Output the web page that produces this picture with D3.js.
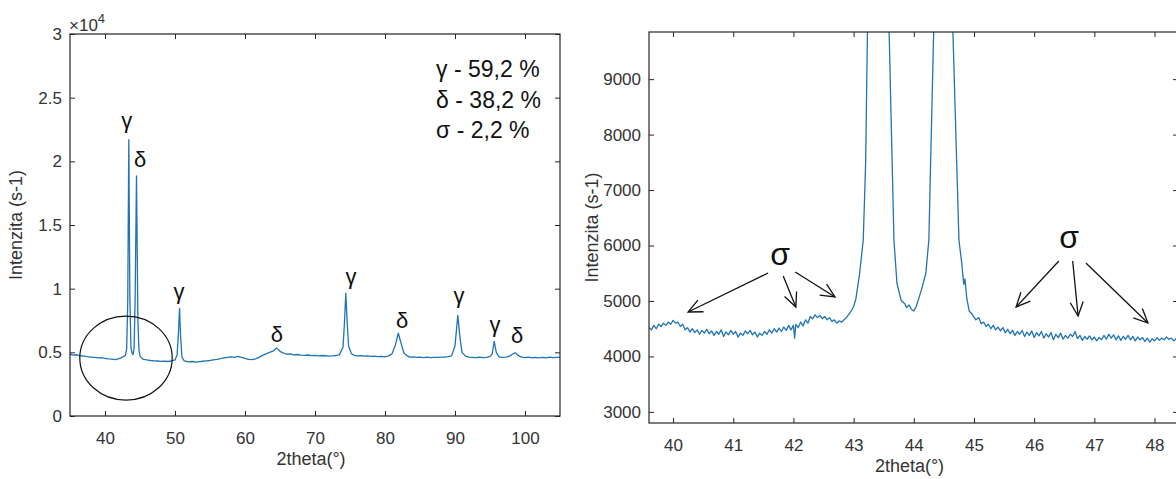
<!DOCTYPE html>
<html>
<head>
<meta charset="utf-8">
<script src="https://cdn.jsdelivr.net/npm/d3@7"></script>
<style>
  body { margin: 0; background: #fff; }
  svg { display: block; font-family: "Liberation Sans", Arial, sans-serif; }
  .tick text { fill: #333; font-size: 17px; }
  .tick line { stroke: #262626; }
</style>
</head>
<body>
<svg id="chart" width="1176" height="479"></svg>
<script>
// wide scan, 2theta 35-105 : [angle, counts]
const wideScan = [
  [35.0,4850],[35.5,4780],[36.0,4810],[36.5,4730],[37.0,4700],[37.5,4660],[38.0,4630],[38.5,4600],
  [39.0,4570],[39.5,4590],[40.0,4520],[40.5,4480],[41.0,4460],[41.5,4430],[42.0,4500],[42.5,4620],
  [42.9,4750],[43.1,5300],[43.25,9000],[43.4,21700],[43.55,9500],[43.7,5400],[43.85,4950],[44.0,4820],
  [44.15,5300],[44.3,9000],[44.5,18850],[44.7,7500],[44.85,5200],[45.0,4700],[45.2,4560],[45.5,4450],
  [46.0,4400],[46.5,4360],[47.0,4330],[47.5,4320],[48.0,4290],[48.5,4310],[49.0,4280],[49.5,4320],
  [50.0,4400],[50.3,4800],[50.5,6600],[50.65,8450],[50.8,6200],[51.0,4600],[51.3,4350],[51.5,4300],
  [52.0,4250],[52.5,4280],[53.0,4230],[53.5,4270],[54.0,4300],[54.5,4330],[55.0,4360],[55.5,4410],
  [56.0,4450],[56.5,4500],[57.0,4560],[57.5,4600],[58.0,4640],[58.5,4610],[59.0,4690],[59.5,4600],
  [60.0,4520],[60.5,4450],[61.0,4430],[61.5,4480],[62.0,4600],[62.5,4760],[63.0,4880],[63.5,4990],
  [64.0,5100],[64.5,5350],[65.0,5080],[65.5,4940],[66.0,4850],[66.5,4880],[67.0,4800],[67.5,4830],
  [68.0,4780],[68.5,4760],[69.0,4790],[69.5,4740],[70.0,4760],[70.5,4720],[71.0,4750],[71.5,4730],
  [72.0,4700],[72.5,4720],[73.0,4750],[73.5,4820],[74.0,5400],[74.2,7200],[74.4,9650],[74.6,7300],
  [74.8,5500],[75.2,4900],[75.5,4790],[76.0,4720],[76.5,4740],[77.0,4700],[77.5,4720],[78.0,4680],
  [78.5,4700],[79.0,4660],[79.5,4690],[80.0,4650],[80.5,4720],[81.0,4880],[81.5,5600],[81.9,6500],
  [82.3,5700],[82.7,4950],[83.2,4720],[83.5,4620],[84.0,4650],[84.5,4600],[85.0,4630],[85.5,4590],
  [86.0,4620],[86.5,4580],[87.0,4610],[87.5,4600],[88.0,4630],[88.5,4620],[89.0,4660],[89.5,4720],
  [90.0,5500],[90.4,7900],[90.7,6200],[91.0,5000],[91.5,4700],[92.0,4620],[92.5,4600],[93.0,4580],
  [93.5,4620],[94.0,4590],[94.5,4610],[95.0,4680],[95.3,4850],[95.6,5850],[95.9,5000],[96.3,4650],
  [96.8,4600],[97.3,4620],[97.8,4700],[98.2,4850],[98.6,4960],[99.0,4760],[99.5,4620],[100.0,4580],
  [100.5,4620],[101.0,4570],[101.5,4610],[102.0,4560],[102.5,4600],[103.0,4570],[103.5,4620],
  [104.0,4580],[104.5,4610],[105.0,4600]
];

// zoomed scan around the main peaks, 2theta 39.6-48.4 : [angle, counts]
const zoomScan = [
  [39.60,4520],[39.64,4480],[39.68,4560],[39.72,4500],[39.76,4580],[39.80,4540],[39.84,4600],[39.88,4560],
  [39.92,4620],[39.96,4580],[40.00,4650],[40.04,4600],[40.08,4620],[40.12,4540],[40.16,4580],[40.20,4480],
  [40.24,4520],[40.28,4440],[40.32,4500],[40.36,4430],[40.40,4480],[40.44,4400],[40.48,4470],[40.52,4420],
  [40.56,4490],[40.60,4410],[40.64,4460],[40.68,4380],[40.72,4450],[40.76,4400],[40.80,4480],[40.84,4360],
  [40.88,4440],[40.92,4390],[40.96,4470],[41.00,4400],[41.04,4450],[41.08,4350],[41.12,4420],[41.16,4380],
  [41.20,4460],[41.24,4410],[41.28,4470],[41.32,4390],[41.36,4440],[41.40,4350],[41.44,4420],[41.48,4380],
  [41.52,4450],[41.56,4400],[41.60,4480],[41.64,4420],[41.68,4500],[41.72,4440],[41.76,4510],[41.80,4450],
  [41.84,4530],[41.88,4470],[41.92,4560],[41.96,4480],[42.00,4560],[42.02,4330],[42.04,4580],[42.08,4520],
  [42.12,4620],[42.16,4550],[42.20,4660],[42.24,4600],[42.28,4720],[42.32,4680],[42.36,4750],[42.40,4700],
  [42.44,4740],[42.48,4680],[42.52,4720],[42.56,4660],[42.60,4700],[42.64,4630],[42.68,4660],[42.72,4600],
  [42.76,4640],[42.80,4620],[42.84,4660],[42.88,4700],[42.92,4760],[42.96,4820],[43.00,4900],[43.04,5050],
  [43.10,5500],[43.16,6100],[43.20,7500],[43.23,9850],[43.30,15000],[43.40,21700],[43.50,15000],
  [43.59,9850],[43.67,6100],[43.72,5320],[43.79,5010],[43.85,4950],[43.88,4880],[43.92,4930],[43.96,4850],
  [44.00,4820],[44.04,4900],[44.09,5070],[44.14,5250],[44.20,5500],[44.25,6100],[44.33,9850],[44.42,15000],
  [44.50,18850],[44.58,14000],[44.65,9850],[44.75,6100],[44.80,5650],[44.83,5300],[44.85,5400],[44.88,5050],
  [44.92,4820],[44.97,4760],[45.03,4660],[45.08,4700],[45.12,4590],[45.16,4620],[45.20,4540],[45.24,4580],
  [45.28,4500],[45.32,4560],[45.36,4480],[45.40,4530],[45.44,4460],[45.48,4520],[45.52,4430],[45.56,4490],
  [45.60,4410],[45.64,4470],[45.68,4380],[45.72,4450],[45.76,4400],[45.80,4470],[45.84,4360],[45.88,4440],
  [45.92,4380],[45.96,4460],[46.00,4340],[46.04,4430],[46.08,4370],[46.12,4450],[46.16,4330],[46.20,4410],
  [46.24,4350],[46.28,4430],[46.32,4300],[46.36,4400],[46.40,4340],[46.44,4420],[46.48,4310],[46.52,4380],
  [46.56,4330],[46.60,4400],[46.64,4360],[46.68,4450],[46.72,4320],[46.76,4380],[46.80,4290],[46.84,4360],
  [46.88,4310],[46.92,4370],[46.96,4300],[47.00,4350],[47.04,4280],[47.08,4340],[47.12,4300],[47.16,4380],
  [47.20,4310],[47.24,4400],[47.28,4330],[47.32,4390],[47.36,4300],[47.40,4370],[47.44,4290],[47.48,4360],
  [47.52,4310],[47.56,4380],[47.60,4300],[47.64,4360],[47.68,4280],[47.72,4350],[47.76,4300],[47.80,4340],
  [47.84,4270],[47.88,4330],[47.92,4260],[47.96,4320],[48.00,4280],[48.04,4340],[48.08,4290],[48.12,4330],
  [48.16,4300],[48.20,4350],[48.24,4310],[48.28,4330],[48.32,4280],[48.36,4320],[48.40,4300]
];

const wideXTicks = [40, 50, 60, 70, 80, 90, 100];
const wideYTicks = [0, 5000, 10000, 15000, 20000, 25000, 30000];
const zoomXTicks = [40, 41, 42, 43, 44, 45, 46, 47, 48];
const zoomYTicks = [3000, 4000, 5000, 6000, 7000, 8000, 9000];

// phase labels on the wide scan: [angle, counts (baseline), symbol]
const peakLabels = [
  [43.1, 22620, "γ"], [45.0, 19555, "δ"], [50.57, 9190, "γ"], [64.57, 5810, "δ"],
  [75.14, 10370, "γ"], [82.43, 6910, "δ"], [90.57, 8870, "γ"], [95.71, 6600, "γ"], [98.86, 5730, "δ"]
];
const phaseShares = ["γ - 59,2 %", "δ - 38,2 %", "σ - 2,2 %"];
const shareBaselines = [26620, 24190, 21830];
const shareAngle = 87.3;

// circled region on the wide scan: center angle, center counts, radius in angle, radius in counts
const zoomCircle = [43.0, 4550, 6.6, 3300];

// sigma markers on the zoomed scan
const sigmaLabels = [[41.78, 5650], [46.58, 5955]];
const sigmaArrows = [
  [41.58, 5505, 40.25, 4801], [41.83, 5451, 42.04, 4892], [42.03, 5523, 42.69, 5072],
  [46.41, 5721, 45.70, 4892], [46.64, 5721, 46.73, 4729], [46.86, 5685, 47.89, 4603]
];

const svg = d3.select("#chart");
const ink = "#262626";
const lineColor = "#1f74b5";

const defs = svg.append("defs");
defs.append("marker")
    .attr("id", "arrowhead")
    .attr("markerUnits", "userSpaceOnUse")
    .attr("markerWidth", 20).attr("markerHeight", 20)
    .attr("refX", 0).attr("refY", 0)
    .attr("viewBox", "-15 -10 20 20")
    .attr("orient", "auto")
  .append("path")
    .attr("d", "M-14,-6.5L0,0L-14,6.5")
    .attr("fill", "none")
    .attr("stroke", "#111")
    .attr("stroke-width", 1.3);

function drawPanel(opts) {
    const x = d3.scaleLinear().domain(opts.xDomain).range([opts.left, opts.right]);
    const y = d3.scaleLinear().domain(opts.yDomain).range([opts.bottom, opts.top]);
    const g = svg.append("g");

    defs.append("clipPath").attr("id", opts.id + "-clip")
      .append("rect")
        .attr("x", opts.left).attr("y", opts.top)
        .attr("width", opts.right - opts.left).attr("height", opts.bottom - opts.top);

    const line = d3.line().x(d => x(d[0])).y(d => y(d[1]));
    g.append("path")
        .datum(opts.data)
        .attr("clip-path", "url(#" + opts.id + "-clip)")
        .attr("fill", "none")
        .attr("stroke", lineColor)
        .attr("stroke-width", 1.3)
        .attr("stroke-linejoin", "round")
        .attr("d", line);

    // MATLAB style box with inward ticks on all sides
    g.append("g").attr("transform", `translate(0,${opts.bottom})`)
        .call(d3.axisBottom(x).tickValues(opts.xTicks).tickSize(-5).tickSizeOuter(0).tickPadding(16))
        .call(a => a.select(".domain").remove());
    g.append("g").attr("transform", `translate(0,${opts.top})`)
        .call(d3.axisTop(x).tickValues(opts.xTicks).tickSize(-5).tickSizeOuter(0).tickFormat(""))
        .call(a => a.select(".domain").remove());
    g.append("g").attr("transform", `translate(${opts.left},0)`)
        .call(d3.axisLeft(y).tickValues(opts.yTicks).tickSize(-5).tickSizeOuter(0).tickPadding(8).tickFormat(opts.yFormat))
        .call(a => a.select(".domain").remove());
    g.append("g").attr("transform", `translate(${opts.right},0)`)
        .call(d3.axisRight(y).tickValues(opts.yTicks).tickSize(-5).tickSizeOuter(0).tickFormat(""))
        .call(a => a.select(".domain").remove());

    g.append("rect")
        .attr("x", opts.left).attr("y", opts.top)
        .attr("width", opts.right - opts.left).attr("height", opts.bottom - opts.top)
        .attr("fill", "none").attr("stroke", ink).attr("stroke-width", 1.2);

    g.append("text")
        .attr("x", (opts.left + opts.right) / 2 - 4)
        .attr("y", opts.bottom + 49)
        .attr("text-anchor", "middle")
        .attr("fill", "#333").attr("font-size", 18)
        .text("2theta(°)");

    g.append("text")
        .attr("transform", `translate(${opts.yLabelX},${(opts.top + opts.bottom) / 2}) rotate(-90)`)
        .attr("text-anchor", "middle")
        .attr("fill", "#333").attr("font-size", 18)
        .text("Intenzita (s-1)");

    return { x, y, g };
}

// ---- left: full pattern ----
const wide = drawPanel({
    id: "wide", data: wideScan,
    left: 70, right: 560, top: 34, bottom: 416,
    xDomain: [35, 105], yDomain: [0, 30000],
    xTicks: wideXTicks, yTicks: wideYTicks,
    yFormat: d => String(d / 10000),
    yLabelX: 22
});

const expo = wide.g.append("text")
    .attr("x", 69).attr("y", 31)
    .attr("fill", "#333").attr("font-size", 17);
expo.append("tspan").text("×10");
expo.append("tspan").attr("dy", -8).attr("font-size", 13).text("4");

wide.g.append("ellipse")
    .attr("cx", wide.x(zoomCircle[0]))
    .attr("cy", wide.y(zoomCircle[1]))
    .attr("rx", wide.x(zoomCircle[0] + zoomCircle[2]) - wide.x(zoomCircle[0]))
    .attr("ry", wide.y(zoomCircle[1]) - wide.y(zoomCircle[1] + zoomCircle[3]))
    .attr("fill", "none").attr("stroke", "#111").attr("stroke-width", 1.2);

wide.g.selectAll(".peak")
    .data(peakLabels)
    .join("text")
    .attr("class", "peak")
    .attr("x", d => wide.x(d[0]))
    .attr("y", d => wide.y(d[1]))
    .attr("text-anchor", "middle")
    .attr("fill", "#111").attr("font-size", 22)
    .text(d => d[2]);

wide.g.selectAll(".share")
    .data(phaseShares)
    .join("text")
    .attr("class", "share")
    .attr("x", wide.x(shareAngle))
    .attr("y", (d, i) => wide.y(shareBaselines[i]))
    .attr("fill", "#111").attr("font-size", 23)
    .text(d => d);

// ---- right: zoom on the main peaks ----
const zoom = drawPanel({
    id: "zoom", data: zoomScan,
    left: 649, right: 1178, top: 32, bottom: 423,
    xDomain: [39.6, 48.39], yDomain: [2800, 9850],
    xTicks: zoomXTicks, yTicks: zoomYTicks,
    yFormat: d3.format("d"),
    yLabelX: 598
});

zoom.g.selectAll(".sigma")
    .data(sigmaLabels)
    .join("text")
    .attr("class", "sigma")
    .attr("x", d => zoom.x(d[0]))
    .attr("y", d => zoom.y(d[1]))
    .attr("text-anchor", "middle")
    .attr("fill", "#111").attr("font-size", 32)
    .text("σ");

zoom.g.selectAll(".arrow")
    .data(sigmaArrows)
    .join("line")
    .attr("class", "arrow")
    .attr("x1", d => zoom.x(d[0])).attr("y1", d => zoom.y(d[1]))
    .attr("x2", d => zoom.x(d[2])).attr("y2", d => zoom.y(d[3]))
    .attr("stroke", "#111").attr("stroke-width", 1.3)
    .attr("marker-end", "url(#arrowhead)");
</script>
</body>
</html>
